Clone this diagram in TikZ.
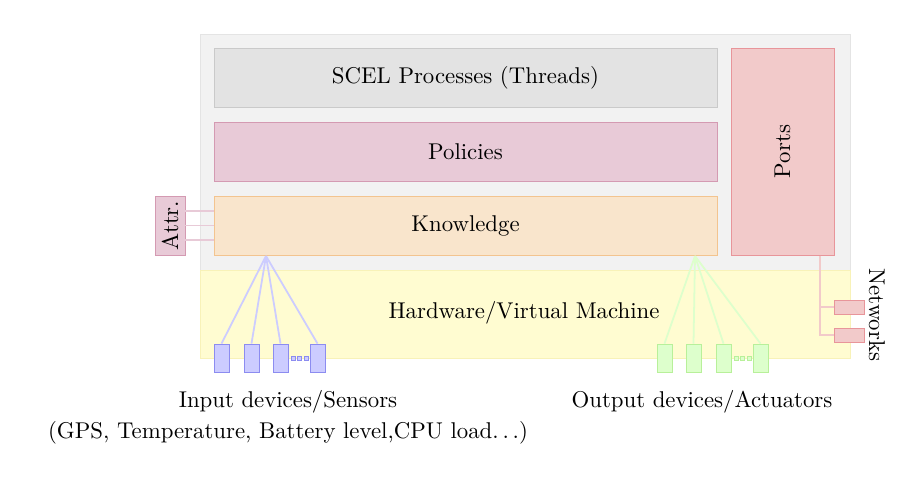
\documentclass[tikz,border=0pt]{standalone}
\usetikzlibrary{positioning}
\definecolor{bggray}{HTML}{F2F2F2}
\definecolor{bgline}{HTML}{E4E4E4}
\definecolor{procfill}{HTML}{E3E3E3}
\definecolor{procline}{HTML}{CACACA}
\definecolor{polfill}{HTML}{E8CAD7}
\definecolor{polline}{HTML}{D49AB2}
\definecolor{knowfill}{HTML}{F9E5CC}
\definecolor{knowline}{HTML}{F3C48F}
\definecolor{portfill}{HTML}{F2CACA}
\definecolor{portline}{HTML}{E8959A}
\definecolor{hwfill}{HTML}{FFFCD1}
\definecolor{hwline}{HTML}{F8F2B8}
\definecolor{infill}{HTML}{CCCCFF}
\definecolor{inline}{HTML}{8C8CF0}
\definecolor{outfill}{HTML}{DDFFCC}
\definecolor{outline}{HTML}{B8F09A}
\begin{document}
\begin{tikzpicture}[x=0.48pt,y=-0.48pt,
  every node/.append style={font=\fontsize{10.95pt}{13pt}\selectfont},
  layer/.style={draw,inner sep=0pt,minimum width=241.44pt,minimum height=28.32pt},
  dev/.style={draw,inner sep=0pt,minimum width=7.2pt,minimum height=13.44pt},
  dot/.style={draw,inner sep=0pt,minimum size=1.9pt},
  netbox/.style={draw=portline,fill=portfill,inner sep=0pt,minimum width=14.4pt,minimum height=6.72pt},
  link/.style={line width=0.85pt}]
\useasboundingbox (0,0) rectangle (917,480);
% machine and hardware
\node[draw=bgline,fill=bggray,inner sep=0pt,minimum width=312pt,minimum height=113.28pt] (machine) at (525,152) {};
\node[draw=hwline,fill=hwfill,inner sep=0pt,minimum width=312pt,minimum height=42.24pt] (hw) at (525,314) {};
\node at (524,313) {Hardware/Virtual Machine};
% layers
\node[layer,draw=procline,fill=procfill] (proc) at (465.5,77.5) {SCEL Processes (Threads)};
\node[layer,draw=polline,fill=polfill] (pol) at (465.5,151.5) {Policies};
\node[layer,draw=knowline,fill=knowfill] (know) at (465.5,225.5) {Knowledge};
\node[draw=portline,fill=portfill,inner sep=0pt,minimum width=49.44pt,minimum height=99.36pt] (ports) at (782.5,151.5) {\rotatebox{90}{Ports}};
\node[draw=polline,fill=polfill,inner sep=0pt,minimum width=14.4pt,minimum height=28.32pt] (attr) at (170,225.5) {\rotatebox{90}{Attr.}};
\foreach \dy in {-7,0,7}
  \draw[polfill,link] ([yshift=\dy pt]attr.east) -- ([yshift=\dy pt]know.west);
% input devices
\coordinate (inroot) at (266,256);
\foreach \x [count=\i] in {221.5,251.5,280.5,317.5} {
  \node[dev,draw=inline,fill=infill] (in\i) at (\x,358) {};
  \draw[infill,link] (inroot) -- (in\i.north);
}
\foreach \x [count=\i] in {293.5,299.5,306}
  \node[dot,draw=inline,fill=infill] (indot\i) at (\x,358) {};
% output devices
\coordinate (outroot) at (695,256);
\foreach \x [count=\i] in {664.5,693.5,723.5,760.5} {
  \node[dev,draw=outline,fill=outfill] (out\i) at (\x,358) {};
  \draw[outfill,link] (outroot) -- (out\i.north);
}
\foreach \x [count=\i] in {736.5,742.5,749}
  \node[dot,draw=outline,fill=outfill] (outdot\i) at (\x,358) {};
% networks
\node[netbox] (net1) at (849,307) {};
\node[netbox] (net2) at (849,335) {};
\coordinate (netroot) at (820,255.5);
\draw[portfill,link] (netroot) |- (net1.west);
\draw[portfill,link] (netroot) |- (net2.west);
\node (netlbl) at (877,315) {\rotatebox{-90}{Networks}};
% captions
\node (inlbl) at (288,402) {Input devices/Sensors};
\node (inlist) at (288,433) {(GPS, Temperature, Battery level,CPU load$\ldots$)};
\node (outlbl) at (702,402) {Output devices/Actuators};
\end{tikzpicture}
\end{document}
